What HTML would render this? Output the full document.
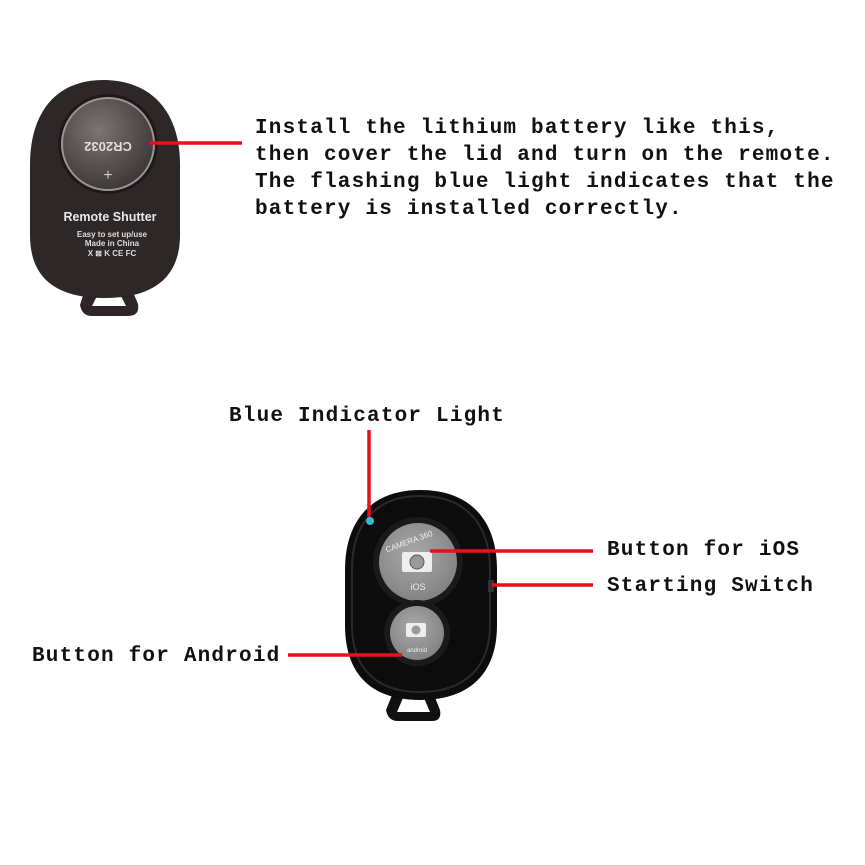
<!DOCTYPE html>
<html><head><style>
html,body{margin:0;padding:0;background:#fff;}
svg{display:block}
text{font-family:"Liberation Mono",monospace;font-weight:bold;fill:#111;}
.lbl{font-size:21px;letter-spacing:1.2px;}
</style></head><body>
<svg width="865" height="865" viewBox="0 0 865 865" xmlns="http://www.w3.org/2000/svg">
<defs>
<radialGradient id="coin" cx="40%" cy="35%" r="70%"><stop offset="0" stop-color="#7a7474"/><stop offset="1" stop-color="#3a3434"/></radialGradient>
<radialGradient id="btn" cx="45%" cy="40%" r="70%"><stop offset="0" stop-color="#a9a9a9"/><stop offset="1" stop-color="#7d7d7d"/></radialGradient>
</defs>
<path d="M88 280 L80 305 Q82 316 92 316 L128 316 Q140 316 138 304 L128 280 Z" fill="#2d2526"/>
<path d="M98 294 L92 306 L126 306 L120 294 Z" fill="#fff"/>
<path d="M103 80 C150 80 180 110 180 165 L180 235 C180 280 150 298 105 298 C58 298 30 280 30 235 L30 165 C30 110 58 80 103 80 Z" fill="#2e2728"/>
<circle cx="108" cy="144" r="50" fill="#1e1819"/>
<circle cx="108" cy="144" r="46" fill="url(#coin)" stroke="#9a9494" stroke-width="2"/>
<text x="108" y="150" font-size="13" style="fill:#ddd;font-family:'Liberation Sans',sans-serif" text-anchor="middle" transform="rotate(180 108 146)">CR2032</text>
<text x="108" y="180" font-size="16" style="fill:#ccc;font-family:'Liberation Sans',sans-serif;font-weight:normal" text-anchor="middle">+</text>
<text x="110" y="221" font-size="12.5" style="fill:#e8e8e8;font-family:'Liberation Sans',sans-serif" text-anchor="middle">Remote Shutter</text>
<text x="112" y="237" font-size="8" style="fill:#ddd;font-family:'Liberation Sans',sans-serif" text-anchor="middle">Easy to set up/use</text>
<text x="112" y="246" font-size="8" style="fill:#ddd;font-family:'Liberation Sans',sans-serif" text-anchor="middle">Made in China</text>
<text x="112" y="256" font-size="8" style="fill:#ddd;font-family:'Liberation Sans',sans-serif" text-anchor="middle">X ⊠ K CE FC</text>
<line x1="150" y1="143" x2="242" y2="143" stroke="#e8101a" stroke-width="3.5"/>
<text class="lbl"><tspan x="255" y="133">Install the lithium battery like this,</tspan><tspan x="255" y="160">then cover the lid and turn on the remote.</tspan><tspan x="255" y="187">The flashing blue light indicates that the</tspan><tspan x="255" y="214">battery is installed correctly.</tspan></text>
<path d="M394 690 L386 710 Q388 721 398 721 L432 721 Q442 721 440 710 L432 690 Z" fill="#111"/>
<path d="M403 698 L397 712 L430 712 L424 698 Z" fill="#fff"/>
<path d="M420 490 C470 490 497 520 497 570 L497 625 C497 675 468 700 420 700 C372 700 345 675 345 625 L345 570 C345 520 372 490 420 490 Z" fill="#0c0c0c"/>
<path d="M420 496 C465 496 490 523 490 570 L490 625 C490 668 464 692 420 692 C376 692 352 668 352 625 L352 570 C352 523 376 496 420 496 Z" fill="none" stroke="#2a2a2a" stroke-width="2"/>
<circle cx="418" cy="562" r="45" fill="#1a1a1a"/>
<circle cx="418" cy="562" r="39" fill="url(#btn)"/>
<circle cx="417" cy="633" r="33" fill="#1a1a1a"/>
<circle cx="417" cy="633" r="27" fill="url(#btn)"/>
<rect x="402" y="552" width="30" height="20" rx="2" fill="#eee"/>
<circle cx="417" cy="562" r="7" fill="#999" stroke="#555" stroke-width="1"/>
<rect x="406" y="623" width="20" height="14" rx="2" fill="#eee"/>
<circle cx="416" cy="630" r="4.5" fill="#999"/>
<text x="418" y="590" font-size="9" style="fill:#eee;font-family:'Liberation Sans',sans-serif;font-weight:normal" text-anchor="middle">iOS</text>
<text x="410" y="544" font-size="8" style="fill:#eee;font-family:'Liberation Sans',sans-serif;font-weight:normal" text-anchor="middle" transform="rotate(-20 410 544)">CAMERA 360</text>
<text x="417" y="652" font-size="6" style="fill:#eee;font-family:'Liberation Sans',sans-serif;font-weight:normal" text-anchor="middle">android</text>
<rect x="488" y="580" width="6" height="12" fill="#333"/>
<circle cx="370" cy="521" r="4" fill="#3bb6d8"/>
<line x1="369" y1="430" x2="369" y2="517" stroke="#e8101a" stroke-width="3.5"/>
<line x1="430" y1="551" x2="593" y2="551" stroke="#e8101a" stroke-width="3.5"/>
<line x1="492" y1="585" x2="593" y2="585" stroke="#e8101a" stroke-width="3.5"/>
<line x1="288" y1="655" x2="402" y2="655" stroke="#e8101a" stroke-width="3.5"/>
<text class="lbl" x="229" y="421">Blue Indicator Light</text>
<text class="lbl" x="607" y="555">Button for iOS</text>
<text class="lbl" x="607" y="591">Starting Switch</text>
<text class="lbl" x="32" y="661">Button for Android</text>
</svg>
</body></html>
